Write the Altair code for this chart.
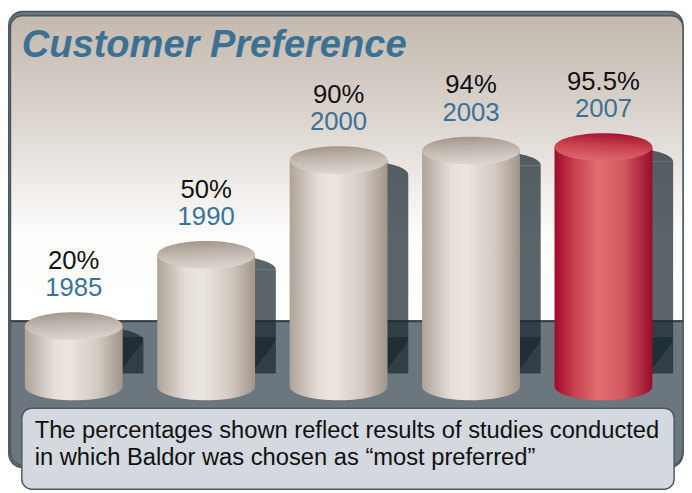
import altair as alt
import pandas as pd

# ---- data -------------------------------------------------------------
years = ["1985", "1990", "2000", "2003", "2007"]
values = [20, 50, 90, 94, 95.5]
pct_labels = ["20%", "50%", "90%", "94%", "95.5%"]
highlight = [False, False, False, False, True]
title_text = "Customer Preference"
caption_lines = [
    "The percentages shown reflect results of studies conducted",
    "in which Baldor was chosen as \u201cmost preferred\u201d",
]

df = pd.DataFrame({"year": years, "value": values, "pct": pct_labels, "hl": highlight})
one = pd.DataFrame({"k": [0]})

W, H = 684, 485
SANS = "Liberation Sans, Arial, sans-serif"

# ---- scales -----------------------------------------------------------
X = alt.X("year:N", sort=years, axis=None,
          scale=alt.Scale(range=[-0.5, 669.5], paddingInner=0, paddingOuter=0))
Y = alt.Y("value:Q", axis=None, stack=False,
          scale=alt.Scale(domain=[0, 100], range=[367, 127]))

# ---- shapes (pixel units, size=4 -> scale 1) --------------------------
ELL = ("M -49.5 0 C -49.5 -7.73 -27.34 -14 0 -14 C 27.34 -14 49.5 -7.73 49.5 0 "
       "C 49.5 7.73 27.34 14 0 14 C -27.34 14 -49.5 7.73 -49.5 0 Z")
ELL_TOP = "M -49.5 0 C -49.5 -7.73 -27.34 -14 0 -14 C 27.34 -14 49.5 -7.73 49.5 0 Z"
BOT_CAP = ("M -49.5 -14 L 49.5 -14 L 49.5 0 C 49.5 7.73 27.34 14 0 14 "
           "C -27.34 14 -49.5 7.73 -49.5 0 Z")
TRI = "M 49.5 0 L 70.5 0 C 70.5 4 69 6 67 9 L 49.5 32 Z"


def grad_h(stops):
    return {"gradient": "linear", "x1": 0, "y1": 0, "x2": 1, "y2": 0,
            "stops": [{"offset": o, "color": c} for o, c in stops]}


def grad_v(stops, x1=0, x2=0):
    return {"gradient": "linear", "x1": x1, "y1": 0, "x2": x2, "y2": 1,
            "stops": [{"offset": o, "color": c} for o, c in stops]}


gray_body = grad_h([(0, "#aea398"), (0.3, "#e6dfd9"), (0.45, "#ebe5e0"),
                    (0.75, "#d2c9c1"), (1, "#a1958a")])
gray_top = grad_v([(0, "#a3978c"), (0.5, "#c4bbb2"), (1, "#ddd6cf")], 0.4, 0.55)
red_body = grad_h([(0, "#9e0a2c"), (0.2, "#c9404f"), (0.45, "#e06e70"),
                   (0.7, "#d25a62"), (1, "#9a0a2c")])
red_top = grad_v([(0, "#a3142f"), (0.45, "#c7404f"), (1, "#e06a70")], 0.6, 0.4)

wall_grad = grad_v([(0, "#c3b9af"), (0.3, "#d9d2cb"), (0.55, "#efebe8"),
                    (0.72, "#fdfdfc"), (1, "#ffffff")])

# ---- decoration -------------------------------------------------------
plate = alt.Chart(one).mark_rect(
    fill="#6b747a", stroke="#4b5860", strokeWidth=1.5, cornerRadius=14
).encode(x=alt.value(0.75), x2=alt.value(683), y=alt.value(0.75), y2=alt.value(462))

wall = alt.Chart(one).mark_rect(
    fill=wall_grad, stroke="#4b5860", strokeWidth=1.5,
    cornerRadiusTopLeft=12, cornerRadiusTopRight=12
).encode(x=alt.value(2.5), x2=alt.value(683), y=alt.value(5), y2=alt.value(314))

floor = alt.Chart(one).mark_rect(
    fill="#6b767e", stroke="#4b5860", strokeWidth=1.5,
    cornerRadiusBottomLeft=14, cornerRadiusBottomRight=14
).encode(x=alt.value(2.5), x2=alt.value(683), y=alt.value(314), y2=alt.value(460))

floor_edge = alt.Chart(one).mark_rule(color="#34424b", strokeWidth=2).encode(
    x=alt.value(2.5), x2=alt.value(683), y=alt.value(314))

title = alt.Chart(one).mark_text(
    text=title_text, font=SANS, fontSize=38.5, fontWeight="bold", fontStyle="italic",
    color="#3d7194", align="left", baseline="alphabetic"
).encode(x=alt.value(14), y=alt.value(47))

caption_box = alt.Chart(one).mark_rect(
    fill="#d3d9de", stroke="#4c5964", strokeWidth=1.5, cornerRadius=10
).encode(x=alt.value(14), x2=alt.value(674), y=alt.value(402), y2=alt.value(484))

cap1 = alt.Chart(one).mark_text(
    text=caption_lines[0], font=SANS, fontSize=24, color="#111111",
    align="left", baseline="alphabetic"
).encode(x=alt.value(27), y=alt.value(432))
cap2 = alt.Chart(one).mark_text(
    text=caption_lines[1], font=SANS, fontSize=24, color="#111111",
    align="left", baseline="alphabetic"
).encode(x=alt.value(27), y=alt.value(460))

# ---- cylinders --------------------------------------------------------
base = alt.Chart(df)
SH = "#1a2830"
SH_OP = 0.72

shadow_top = base.mark_point(shape=ELL_TOP, size=4, filled=True, fill=SH,
                             opacity=SH_OP, strokeWidth=0, xOffset=21, yOffset=15
                             ).encode(x=X, y=Y)
shadow_body = base.mark_bar(width=50.5, xOffset=45.25, yOffset=15, y2Offset=-37,
                            fill=SH, opacity=SH_OP, strokeWidth=0
                            ).encode(x=X, y=Y)
shadow_tri = base.mark_point(shape=TRI, size=4, filled=True, fill=SH,
                             opacity=SH_OP, strokeWidth=0
                             ).encode(x=X, y=alt.value(330))


def cylinder(flag, body_fill, top_fill):
    b = base.transform_filter(alt.datum.hl == flag)
    body = b.mark_bar(width=99, fill=body_fill, strokeWidth=0).encode(x=X, y=Y)
    bottom = b.mark_point(shape=BOT_CAP, size=4, filled=True, fill=body_fill,
                          opacity=1, strokeWidth=0).encode(x=X, y=alt.value(380))
    top = b.mark_point(shape=ELL, size=4, filled=True, fill=top_fill,
                       opacity=1, strokeWidth=0).encode(x=X, y=Y)
    return [body, bottom, top]


pct_text = base.mark_text(font=SANS, fontSize=26, color="#111111",
                          baseline="alphabetic", yOffset=-58).encode(
    x=X, y=Y, text="pct:N")
year_text = base.mark_text(font=SANS, fontSize=26, color="#3b7296",
                           baseline="alphabetic", yOffset=-30).encode(
    x=X, y=Y, text="year:N")

layers = [plate, wall, floor, floor_edge, title,
          shadow_top, shadow_body, shadow_tri]
layers += cylinder(False, gray_body, gray_top)
layers += cylinder(True, red_body, red_top)
layers += [pct_text, year_text, caption_box, cap1, cap2]

chart = alt.layer(*layers).properties(
    width=W, height=H, padding=0,
    autosize=alt.AutoSizeParams(type="none"),
).configure_view(strokeWidth=0)

chart.save("out.html", embed_options={"renderer": "svg", "actions": False})
